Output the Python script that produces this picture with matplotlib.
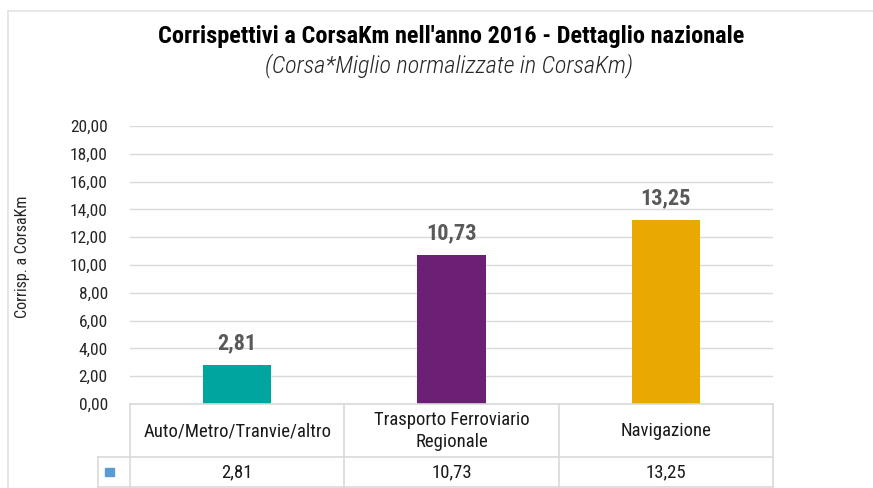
import matplotlib
matplotlib.use("Agg")
import matplotlib.pyplot as plt
from matplotlib import font_manager
from matplotlib.lines import Line2D
from matplotlib.patches import Rectangle

# --- font: condensed look if available ---
names = {f.name for f in font_manager.fontManager.ttflist}
prefs = ["Roboto Condensed", "Liberation Sans Narrow", "Archivo Narrow", "Barlow Condensed", "DejaVu Sans"]
FONT = next(n for n in prefs if n in names or n == "DejaVu Sans")
plt.rcParams["font.family"] = [FONT, "DejaVu Sans"]

# --- data ---
categories = ["Auto/Metro/Tranvie/altro", "Trasporto Ferroviario\nRegionale", "Navigazione"]
values = [2.81, 10.73, 13.25]
value_labels = ["2,81", "10,73", "13,25"]
bar_colors = ["#00A5A0", "#6B1F75", "#E9A900"]
y_ticks = [0, 2, 4, 6, 8, 10, 12, 14, 16, 18, 20]

W, H = 873, 488
fig = plt.figure(figsize=(W / 100, H / 100), dpi=100)

ax_l, ax_r, ax_b, ax_t = 130 / W, 773 / W, 1 - 404 / H, 1 - 126 / H
ax = fig.add_axes([ax_l, ax_b, ax_r - ax_l, ax_t - ax_b])

x = list(range(len(categories)))
ax.bar(x, values, width=0.32, color=bar_colors, zorder=3)
for xi, v, lab in zip(x, values, value_labels):
    ax.text(xi, v + 0.75, lab, ha="center", va="bottom", fontsize=16,
            fontweight="bold", color="#595959", zorder=4)

ax.set_xlim(-0.5, len(categories) - 0.5)
ax.set_ylim(0, 20)
ax.set_yticks(y_ticks)
ax.set_yticklabels([f"{t:.2f}".replace(".", ",") for t in y_ticks], fontsize=12.5, color="#262626")
ax.yaxis.grid(True, color="#D9D9D9", linewidth=1, zorder=0)
ax.tick_params(axis="y", length=0, pad=16)
ax.set_xticks([])
for s in ax.spines.values():
    s.set_visible(False)

ax.set_ylabel("Corrisp. a CorsaKm", fontsize=11.5, color="#262626")
ax.yaxis.set_label_coords((30 - 130) / (773 - 130), (404 - 257) / (404 - 126))

# --- data table under the chart (figure pixel coords) ---
def fx(px):
    return px / W

def fy(py):
    return 1 - py / H

grid_c = "#D9D9D9"
col_edges = [130 + i * (773 - 130) / 3 for i in range(4)]
row_top, row_mid, row_bot = 404, 457, 487

def hline(y, x0, x1):
    fig.add_artist(Line2D([fx(x0), fx(x1)], [fy(y), fy(y)], color=grid_c, lw=1.2))

def vline(xp, y0, y1):
    fig.add_artist(Line2D([fx(xp), fx(xp)], [fy(y0), fy(y1)], color=grid_c, lw=1.2))

hline(row_top, 130, 773)
hline(row_mid, 98, 773)
hline(row_bot, 98, 773)
for i, xe in enumerate(col_edges):
    vline(xe, row_top, row_bot)
vline(98, row_mid, row_bot)

for i, (cat, lab) in enumerate(zip(categories, value_labels)):
    cx = (col_edges[i] + col_edges[i + 1]) / 2
    fig.text(fx(cx), fy(431), cat, ha="center", va="center",
             fontsize=13.5, color="#1a1a1a", linespacing=1.25)
    fig.text(fx(cx), fy(472), lab, ha="center", va="center",
             fontsize=13.5, color="#1a1a1a")

fig.add_artist(Rectangle((fx(105), fy(476)), fx(9), 8 / H, color="#5B9BD5"))

# --- chart frame ---
fig.add_artist(Line2D([fx(8), fx(873)], [fy(11), fy(11)], color="#E3E3E3", lw=1.2))
fig.add_artist(Line2D([fx(8), fx(8)], [fy(11), fy(488)], color="#E3E3E3", lw=1.2))

# --- titles ---
fig.text(fx(451), fy(36), "Corrispettivi a CorsaKm nell'anno 2016 - Dettaglio nazionale",
         ha="center", va="center", fontsize=17.5, fontweight="bold", color="#000000")
fig.text(fx(449), fy(66), "(Corsa*Miglio normalizzate in CorsaKm)",
         ha="center", va="center", fontsize=17.5, style="italic", fontweight="light",
         color="#262626")

fig.savefig("out.png", dpi=100)
